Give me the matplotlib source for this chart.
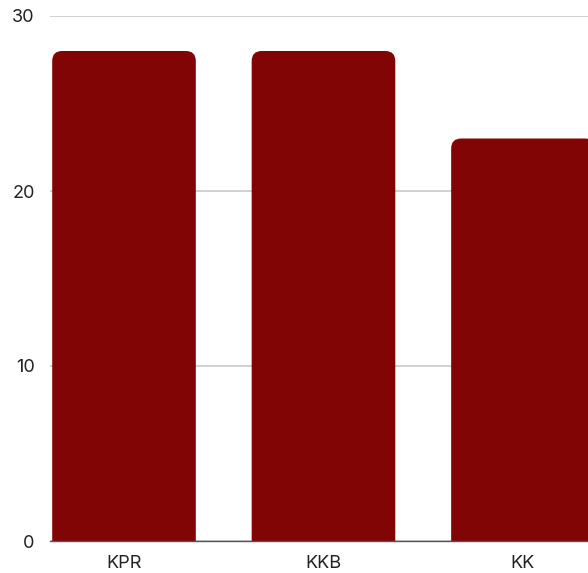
import matplotlib
matplotlib.use("Agg")
import matplotlib.pyplot as plt
from matplotlib.patches import FancyBboxPatch

categories = ["KPR", "KKB", "KK"]
values = [28, 28, 23]
yticks = [0, 10, 20, 30]

W, H = 588, 573
fig = plt.figure(figsize=(W / 100, H / 100), dpi=100)
plt.rcParams['font.family'] = ['Inter', 'DejaVu Sans']
ax = fig.add_axes([50 / W, (H - 541) / H, 1 - 50 / W, (541 - 16) / H])

bar_color = "#820505"
bars = ax.bar(range(len(categories)), values, width=0.72, color=bar_color, zorder=2)
ax.set_xlim(-0.371, 2.326)
ax.set_ylim(0, 30)

# replace bars with rounded-top versions
px_per_x = (W - 50) / (2.326 + 0.371)
px_per_y = (541 - 16) / 30
r_px = 10
for b in bars:
    x, w, h = b.get_x(), b.get_width(), b.get_height()
    b.set_visible(False)
    rx = r_px / px_per_x
    aspect = px_per_x / px_per_y
    p = FancyBboxPatch((x + rx, -5), w - 2 * rx, h + 5 - rx * aspect,
                       boxstyle=f"round,pad={rx}",
                       mutation_aspect=aspect,
                       facecolor=bar_color, edgecolor="none", zorder=2)
    ax.add_patch(p)

ax.set_yticks(yticks)
ax.set_yticklabels([str(v) for v in yticks])
ax.set_xticks(range(len(categories)))
ax.set_xticklabels(categories)
ax.grid(axis="y", color="#c8c8c8", linewidth=1.2, zorder=1)
ax.set_axisbelow(True)
for s in ["top", "right", "left"]:
    ax.spines[s].set_visible(False)
ax.spines["bottom"].set_color("#555555")
ax.spines["bottom"].set_linewidth(1)
ax.spines["bottom"].set_zorder(3)
ax.tick_params(axis="y", length=0, pad=11, labelsize=13, labelcolor="#222222")
ax.tick_params(axis="x", length=0, pad=10, labelsize=13, labelcolor="#222222")

fig.savefig("out.png", dpi=100)
